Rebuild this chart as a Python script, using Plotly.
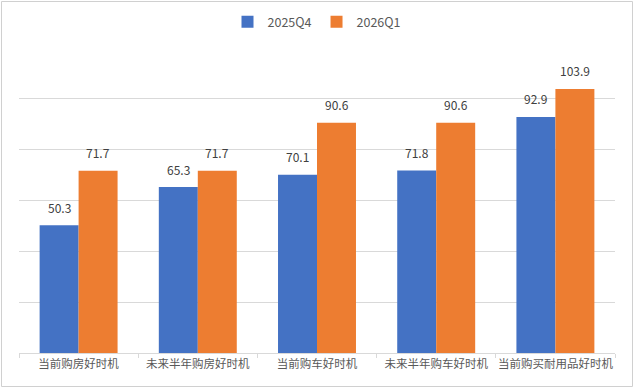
import plotly.graph_objects as go

categories = ["当前购房好时机", "未来半年购房好时机", "当前购车好时机", "未来半年购车好时机", "当前购买耐用品好时机"]
series_names = ["2025Q4", "2026Q1"]
q4_values = [50.3, 65.3, 70.1, 71.8, 92.9]
q1_values = [71.7, 71.7, 90.6, 90.6, 103.9]

colors = ["#4472C4", "#ED7D31"]
W, H = 634, 388
ml, mr, mt, mb = 19, 19, 48, 35
font = "Noto Sans CJK SC, Microsoft YaHei, sans-serif"

fig = go.Figure()
for name, vals, col in zip(series_names, [q4_values, q1_values], colors):
    fig.add_trace(go.Bar(name=name, x=categories, y=vals, marker=dict(color=col, line=dict(width=0))))

annotations = []
for vals, shift in [(q4_values, -19.5), (q1_values, 19.5)]:
    for c, v in zip(categories, vals):
        annotations.append(dict(x=c, y=v, text=f"{v:.1f}", showarrow=False, xshift=shift, yshift=18,
                                yanchor="middle", font=dict(size=12, color="#404040", family=font)))

pw = W - ml - mr
ph = H - mt - mb
fig.update_layout(
    width=W, height=H,
    margin=dict(l=ml, r=mr, t=mt, b=mb, autoexpand=False),
    paper_bgcolor="white", plot_bgcolor="white",
    barmode="group", bargap=0.346, bargroupgap=0,
    font=dict(family=font, size=12, color="#595959"),
    legend=dict(orientation="h", x=0.5, xanchor="center", yref="container", y=1 - 22 / H, yanchor="middle",
                font=dict(size=12.5, color="#595959"), itemwidth=30, traceorder="normal"),
    annotations=annotations,
    shapes=[dict(type="rect", xref="paper", yref="paper",
                 x0=(1.5 - ml) / pw, x1=(W - 1.5 - ml) / pw,
                 y0=-(mb - 1.5) / ph, y1=1 + (mt - 1.5) / ph,
                 line=dict(color="#D0D0D0", width=1), fillcolor="rgba(0,0,0,0)", layer="above")],
)
fig.update_xaxes(showline=True, linecolor="#D9D9D9", linewidth=1, ticks="outside", tickson="boundaries",
                 ticklen=4, tickcolor="#D9D9D9", tickfont=dict(size=11.5, color="#595959"), showgrid=False,
                 tickangle=0, automargin=False)
fig.update_yaxes(range=[0, 120], dtick=20, showticklabels=False, showgrid=True, gridcolor="#D9D9D9",
                 gridwidth=1, zeroline=False, showline=False, automargin=False)

fig.write_html("out.html", config={"displayModeBar": False},
               post_script="document.body.style.margin='0';document.body.style.overflow='hidden';")
